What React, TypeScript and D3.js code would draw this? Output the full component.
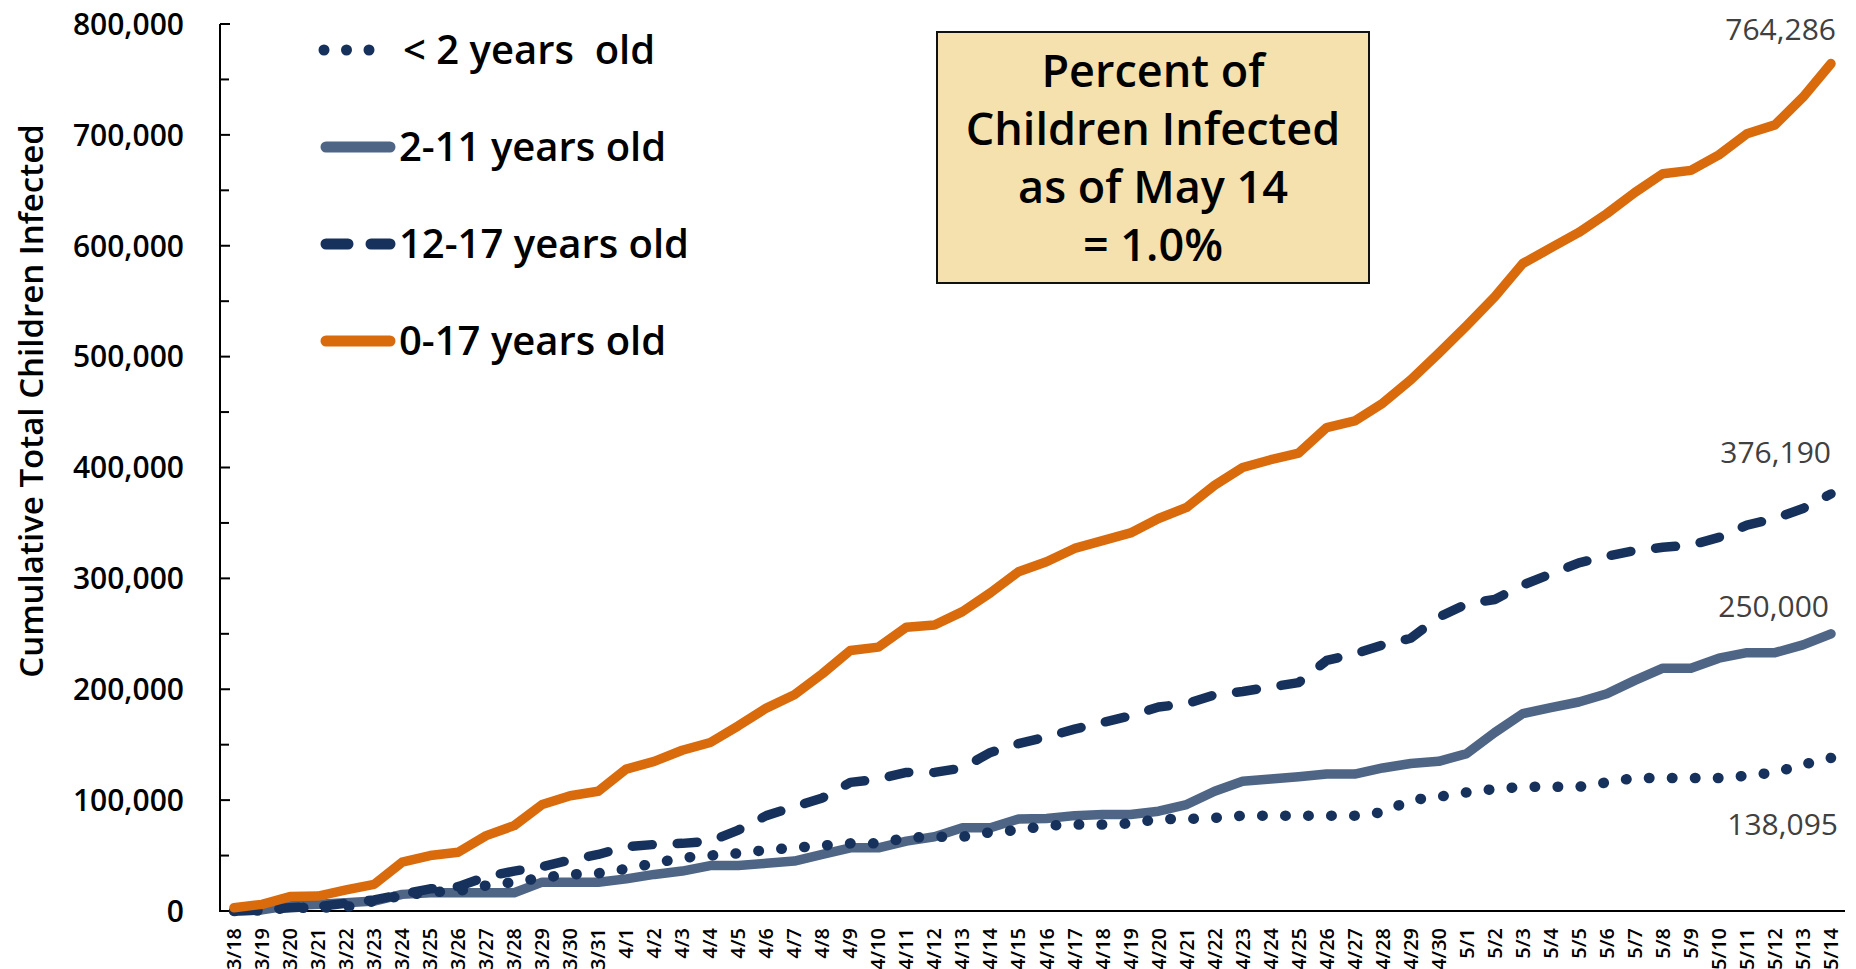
import React from "react";
import * as d3 from "d3";

// categories (x axis)
const dates = [
  "3/18", "3/19", "3/20", "3/21", "3/22", "3/23", "3/24", "3/25", "3/26", "3/27", "3/28", "3/29", "3/30", "3/31",
  "4/1", "4/2", "4/3", "4/4", "4/5", "4/6", "4/7", "4/8", "4/9", "4/10", "4/11", "4/12", "4/13", "4/14", "4/15",
  "4/16", "4/17", "4/18", "4/19", "4/20", "4/21", "4/22", "4/23", "4/24", "4/25", "4/26", "4/27", "4/28", "4/29", "4/30",
  "5/1", "5/2", "5/3", "5/4", "5/5", "5/6", "5/7", "5/8", "5/9", "5/10", "5/11", "5/12", "5/13", "5/14",
];

// cumulative counts
const under2 = [
  0, 500, 3000, 3000, 3500, 9000, 14000, 17000, 18000, 23000, 26000, 30000, 33000, 34000,
  38000, 43000, 48000, 50000, 52000, 55000, 57000, 59000, 61000, 61000, 66000, 67000, 67000, 71000, 73000,
  77000, 78000, 78000, 79000, 83000, 83000, 84000, 86000, 86000, 86000, 86000, 86000, 89000, 100000, 103000,
  107000, 110000, 112000, 112000, 112000, 116000, 120000, 120000, 120000, 120000, 122000, 125000, 132000, 138095,
];
const age2to11 = [
  0, 1000, 5000, 6000, 7500, 9000, 15000, 16500, 16500, 16500, 16500, 26000, 26000, 26000,
  29000, 33000, 36000, 41000, 41000, 43000, 45000, 51000, 57000, 57000, 63000, 67000, 75000, 75000, 83000,
  83500, 86000, 87000, 87000, 90000, 96000, 108000, 117000, 119000, 121000, 123500, 123500, 129000, 133000, 135000,
  142000, 161000, 178000, 183500, 188500, 196000, 208000, 219000, 219000, 228000, 233000, 233000, 240000, 250000,
];
const age12to17 = [
  0, 1000, 3000, 4000, 7000, 10000, 15000, 20000, 22000, 31000, 36000, 40000, 46000, 51000,
  58000, 60000, 61000, 63000, 73000, 86000, 94000, 102000, 116000, 119000, 125000, 125000, 129000, 143000, 151000,
  157000, 164000, 170000, 176000, 184000, 187000, 195000, 198000, 202000, 206000, 226000, 232000, 240000, 246000, 265000,
  277000, 281000, 294000, 304000, 314000, 320000, 325000, 328000, 330000, 337000, 348000, 354000, 363000, 376190,
];
const age0to17 = [
  3000, 6000, 13000, 13500, 19000, 24000, 44000, 50000, 53000, 68000, 77000, 96000, 104000, 108000,
  128000, 135000, 145000, 152000, 167000, 183000, 195000, 214000, 235000, 238000, 256000, 258000, 270000, 287000, 306000,
  315000, 327000, 334000, 341000, 354000, 364000, 384000, 400000, 407000, 413000, 436000, 442000, 458000, 479000, 503000,
  528000, 554000, 584000, 598000, 612000, 629000, 648000, 665000, 668000, 682000, 701000, 709000, 734000, 764286,
];

const seriesNames = ["< 2 years  old", "2-11 years old", "12-17 years old", "0-17 years old"];
const endLabels = ["138,095", "250,000", "376,190", "764,286"];
const yTicks = [0, 100000, 200000, 300000, 400000, 500000, 600000, 700000, 800000];
const yMinorTicks = [50000, 150000, 250000, 350000, 450000, 550000, 650000, 750000];
const boxLines = ["Percent of", "Children Infected", "as of May 14", "= 1.0%"];

const W = 1856;
const H = 969;
const FONT = "'Open Sans', 'Noto Sans', sans-serif";

const ORANGE = "#D96B0C";
const SLATE = "#4F6586";
const NAVY = "#16325C";

export default function App() {
  const x = d3.scaleBand<string>().domain(dates).range([220, 1845]);
  const cx = (d: string) => (x(d) as number) + x.bandwidth() / 2;
  const y = d3.scaleLinear().domain([0, 800000]).range([911, 24]);
  const line = d3
    .line<number>()
    .x((_, i) => cx(dates[i]))
    .y((v) => y(v));

  const last = dates[dates.length - 1];

  // drawing order: 2-11, 12-17, <2, 0-17
  const series = [
    { values: age2to11, color: SLATE, dash: undefined, w: 9.5, label: endLabels[1], dx: -2, dy: -17 },
    { values: age12to17, color: NAVY, dash: "20 25", w: 9.5, label: endLabels[2], dx: 0, dy: -31 },
    { values: under2, color: NAVY, dash: "0.5 22.5", w: 10.5, label: endLabels[0], dx: 7, dy: 77 },
    { values: age0to17, color: ORANGE, dash: undefined, w: 9.5, label: endLabels[3], dx: 5, dy: -24 },
  ];

  const legend = [
    { name: seriesNames[0], color: NAVY, x1: 324, x2: 370, dash: "0 22.5", tx: 403 },
    { name: seriesNames[1], color: SLATE, x1: 326, x2: 390, dash: undefined, tx: 399 },
    { name: seriesNames[2], color: NAVY, x1: 326, x2: 390, dash: "22 23", tx: 399 },
    { name: seriesNames[3], color: ORANGE, x1: 326, x2: 390, dash: undefined, tx: 399 },
  ];

  return (
    <svg
      width={W}
      height={H}
      style={{ position: "absolute", left: 0, top: 0, background: "#fff" }}
      fontFamily={FONT}
    >
      {/* y axis */}
      <line x1={220} x2={220} y1={y(800000)} y2={y(0) + 1} stroke="#000" strokeWidth={2} />
      {yMinorTicks.map((t) => (
        <line key={"m" + t} x1={220} x2={229} y1={y(t)} y2={y(t)} stroke="#000" strokeWidth={2} />
      ))}
      {yTicks.map((t) => (
        <g key={t}>
          <line x1={220} x2={230} y1={y(t)} y2={y(t)} stroke="#000" strokeWidth={2} />
          <text x={184} y={y(t)} dy="0.36em" textAnchor="end" fontSize={30} fontWeight={600} fill="#000">
            {d3.format(",")(t)}
          </text>
        </g>
      ))}
      <text
        transform={`translate(43, 401) rotate(-90)`}
        textAnchor="middle"
        fontSize={33}
        fontWeight={600}
        fill="#000"
      >
        Cumulative Total Children Infected
      </text>

      {/* x axis */}
      <line x1={219} x2={1845} y1={y(0)} y2={y(0)} stroke="#000" strokeWidth={2} />
      {dates.map((d) => (
        <text
          key={d}
          transform={`translate(${cx(d)}, 928) rotate(-90)`}
          textAnchor="end"
          dy="0.35em"
          fontSize={20}
          fontWeight={600}
          fill="#000"
        >
          {d}
        </text>
      ))}

      {/* series */}
      {series.map((s, i) => (
        <path
          key={i}
          d={line(s.values) as string}
          fill="none"
          stroke={s.color}
          strokeWidth={s.w}
          strokeLinecap="round"
          strokeLinejoin="round"
          strokeDasharray={s.dash}
        />
      ))}
      {series.map((s, i) => (
        <text
          key={"l" + i}
          x={cx(last) + s.dx}
          y={y(s.values[s.values.length - 1]) + s.dy}
          textAnchor="end"
          fontSize={30}
          fill="#404040"
        >
          {s.label}
        </text>
      ))}

      {/* legend */}
      {legend.map((l, i) => {
        const ly = 50 + i * 97;
        return (
          <g key={l.name}>
            <line
              x1={l.x1}
              x2={l.x2}
              y1={ly}
              y2={ly}
              stroke={l.color}
              strokeWidth={11}
              strokeLinecap="round"
              strokeDasharray={l.dash}
            />
            <text x={l.tx} y={ly} dy="0.36em" fontSize={40} fontWeight={600} fill="#000" style={{ whiteSpace: "pre" }}>
              {l.name}
            </text>
          </g>
        );
      })}

      {/* note box */}
      <rect x={937} y={32} width={432} height={251} fill="#F5E1AE" stroke="#111" strokeWidth={2} />
      {boxLines.map((t, i) => (
        <text key={t} x={1153} y={87 + i * 58} textAnchor="middle" fontSize={45} fontWeight={600} fill="#000">
          {t}
        </text>
      ))}
    </svg>
  );
}
